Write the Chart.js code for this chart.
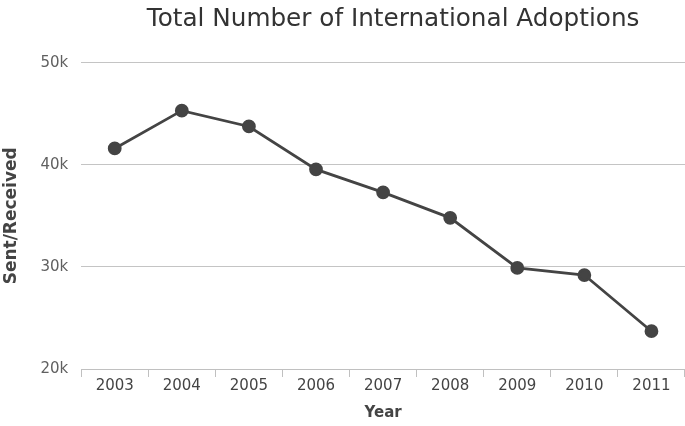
<!DOCTYPE html>
<html>
<head>
<meta charset="utf-8">
<script src="https://cdn.jsdelivr.net/npm/chart.js@4"></script>
<style>
  html, body { margin: 0; padding: 0; background: #fff; }
  #wrap { width: 685px; height: 426px; }
</style>
</head>
<body>
<div id="wrap"><canvas id="myChart"></canvas></div>
<script>
const years = ["2003", "2004", "2005", "2006", "2007", "2008", "2009", "2010", "2011"];
const adoptions = [41600, 45300, 43750, 39550, 37300, 34800, 29900, 29200, 23700];
const yTicks = [20000, 30000, 40000, 50000];

// the title sits a bit right of the plot's centre in the original
const nudgeTitle = {
  id: "nudgeTitle",
  afterLayout(chart) {
    if (chart.titleBlock) {
      chart.titleBlock.left += 10;
      chart.titleBlock.right += 10;
    }
  },
};

const ctx = document.getElementById("myChart").getContext("2d");

new Chart(ctx, {
  type: "line",
  data: {
    labels: years,
    datasets: [
      {
        data: adoptions,
        label: "Adoptions",
        borderColor: "#444444",
        backgroundColor: "#444444",
        borderWidth: 2.8,
        pointRadius: 5.5,
        pointHoverRadius: 5.5,
        tension: 0,
        fill: false,
      },
    ],
  },
  plugins: [nudgeTitle],
  options: {
    responsive: true,
    maintainAspectRatio: false,
    animation: false,
    layout: { autoPadding: false, padding: { top: 3, right: -3, left: -7, bottom: 4 } },
    plugins: {
      legend: { display: false },
      tooltip: { enabled: false },
      title: {
        display: true,
        text: "Total Number of International Adoptions",
        fullSize: false,
        color: "#333333",
        font: { family: "DejaVu Sans", size: 24.7, weight: "normal" },
        padding: { top: 2, bottom: 28 },
      },
    },
    scales: {
      x: {
        type: "category",
        offset: true,
        afterFit: (axis) => {
          axis.paddingLeft = 0;
          axis.paddingRight = 0;
        },
        grid: {
          offset: true,
          drawOnChartArea: false,
          drawTicks: true,
          tickLength: 8,
          color: "#c0c0c0",
        },
        border: { display: true, color: "#c0c0c0", width: 1 },
        ticks: {
          color: "#444444",
          font: { family: "DejaVu Sans", size: 15 },
          padding: 0,
          maxRotation: 0,
        },
        title: {
          display: true,
          text: "Year",
          color: "#444444",
          font: { family: "DejaVu Sans", size: 15, weight: "bold" },
          padding: { top: 9, bottom: 0 },
        },
      },
      y: {
        min: 20000,
        max: 50000,
        afterBuildTicks: (axis) => {
          axis.ticks = yTicks.map((v) => ({ value: v }));
        },
        grid: {
          color: "#c4c4c4",
          lineWidth: 1,
          drawTicks: false,
        },
        border: { display: false },
        ticks: {
          color: "#606060",
          font: { family: "DejaVu Sans", size: 15 },
          padding: 13,
          callback: (v) => v / 1000 + "k",
        },
        title: {
          display: true,
          text: "Sent/Received",
          color: "#444444",
          font: { family: "DejaVu Sans", size: 17, weight: "bold" },
          padding: { top: 8, bottom: 6 },
        },
      },
    },
  },
});
</script>
</body>
</html>
